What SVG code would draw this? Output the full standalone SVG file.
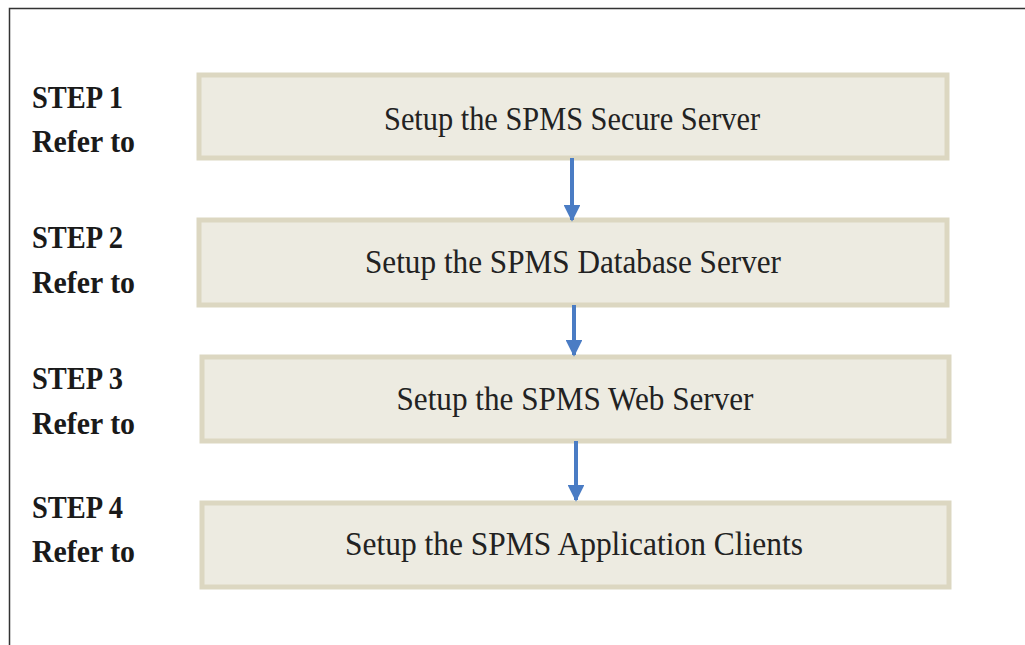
<svg xmlns="http://www.w3.org/2000/svg" width="1025" height="645" viewBox="0 0 1025 645">
<style>
.box{fill:#edebe1;stroke:#dcd7c1;stroke-width:5}
.bt{font-family:"Liberation Serif",serif;font-size:33px;fill:#222;text-anchor:middle}
.st{font-family:"Liberation Serif",serif;font-size:32px;font-weight:bold;fill:#1a1a1a}
.ar{stroke:#4a7cc4;stroke-width:4;fill:none}
</style>
<defs>
<marker id="ah" viewBox="0 0 10 10" refX="9" refY="5" markerWidth="4.2" markerHeight="4.2" orient="auto" markerUnits="strokeWidth">
<path d="M0,0 L10,5 L0,10 z" fill="#4a7cc4"/>
</marker>
</defs>
<rect width="1025" height="645" fill="#fff"/>
<path d="M9.5,645 V8.5 H1025" fill="none" stroke="#333" stroke-width="1.5"/>
<g id="step1">
<rect class="box" x="199" y="75" width="748" height="83"/>
<text class="bt" x="572" y="130" textLength="376" lengthAdjust="spacingAndGlyphs">Setup the SPMS Secure Server</text>
<text class="st" x="32" y="108" textLength="91" lengthAdjust="spacingAndGlyphs">STEP 1</text>
<text class="st" x="32" y="152" textLength="103" lengthAdjust="spacingAndGlyphs">Refer to</text>
</g>
<g id="step2">
<rect class="box" x="199" y="220" width="748" height="85"/>
<text class="bt" x="573" y="273" textLength="416" lengthAdjust="spacingAndGlyphs">Setup the SPMS Database Server</text>
<text class="st" x="32" y="248" textLength="91" lengthAdjust="spacingAndGlyphs">STEP 2</text>
<text class="st" x="32" y="293" textLength="103" lengthAdjust="spacingAndGlyphs">Refer to</text>
</g>
<g id="step3">
<rect class="box" x="202" y="357" width="747" height="84"/>
<text class="bt" x="575" y="410" textLength="357" lengthAdjust="spacingAndGlyphs">Setup the SPMS Web Server</text>
<text class="st" x="32" y="389" textLength="91" lengthAdjust="spacingAndGlyphs">STEP 3</text>
<text class="st" x="32" y="434" textLength="103" lengthAdjust="spacingAndGlyphs">Refer to</text>
</g>
<g id="step4">
<rect class="box" x="202" y="503" width="747" height="84"/>
<text class="bt" x="574" y="555" textLength="458" lengthAdjust="spacingAndGlyphs">Setup the SPMS Application Clients</text>
<text class="st" x="32" y="518" textLength="91" lengthAdjust="spacingAndGlyphs">STEP 4</text>
<text class="st" x="32" y="562" textLength="103" lengthAdjust="spacingAndGlyphs">Refer to</text>
</g>
<g id="connectors">
<line class="ar" x1="572" y1="158" x2="572" y2="220" marker-end="url(#ah)"/>
<line class="ar" x1="574" y1="305" x2="574" y2="355" marker-end="url(#ah)"/>
<line class="ar" x1="576" y1="441" x2="576" y2="500" marker-end="url(#ah)"/>
</g>
</svg>
